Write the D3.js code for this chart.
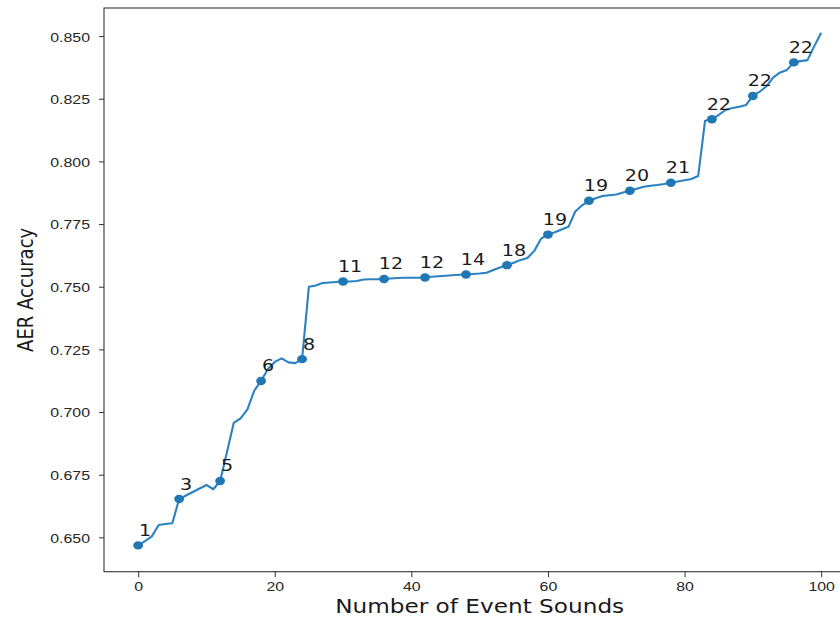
<!DOCTYPE html>
<html>
<head>
<meta charset="utf-8">
<script src="https://cdn.jsdelivr.net/npm/d3@7"></script>
<style>
  body { margin: 0; background: #fff; }
  svg { display: block; font-family: "DejaVu Sans", sans-serif; }
</style>
</head>
<body>
<script>
// accuracy after each added event sound (index = number of event sounds)
let accuracy = [
  0.6468, 0.6485, 0.6504, 0.6549, 0.6553, 0.6556, 0.6653, 0.6667, 0.6681, 0.6695,
  0.6709, 0.6692, 0.6725, 0.6840, 0.6957, 0.6975, 0.7011, 0.7085, 0.7124, 0.7172,
  0.7200, 0.7214, 0.7198, 0.7195, 0.7211, 0.7500, 0.7505, 0.7515, 0.7517, 0.7519,
  0.7521, 0.7521, 0.7523, 0.7529, 0.7530, 0.7530, 0.7531, 0.7533, 0.7535, 0.7536,
  0.7536, 0.7536, 0.7537, 0.7540, 0.7542, 0.7544, 0.7546, 0.7548, 0.7549, 0.7551,
  0.7553, 0.7556, 0.7567, 0.7577, 0.7586, 0.7596, 0.7607, 0.7615, 0.7643, 0.7692,
  0.7708, 0.7717, 0.7728, 0.7739, 0.7800, 0.7825, 0.7843, 0.7853, 0.7862, 0.7865,
  0.7868, 0.7876, 0.7883, 0.7891, 0.7899, 0.7903, 0.7906, 0.7910, 0.7915, 0.7920,
  0.7925, 0.7930, 0.7942, 0.8162, 0.8168, 0.8186, 0.8205, 0.8213, 0.8218, 0.8225,
  0.8261, 0.8278, 0.8300, 0.8335, 0.8355, 0.8365, 0.8395, 0.8400, 0.8404, 0.8460,
  0.8513
]
let marker_idx = [0, 6, 12, 18, 24, 30, 36, 42, 48, 54, 60, 66, 72, 78, 84, 90, 96]
let marker_labels = ['1', '3', '5', '6', '8', '11', '12', '12', '14', '18', '19', '19', '20', '21', '22', '22', '22']
let x_ticks = [0, 20, 40, 60, 80, 100]
let y_ticks = [0.650, 0.675, 0.700, 0.725, 0.750, 0.775, 0.800, 0.825, 0.850]

let width = 840, height = 617
let margin = {top: 8, left: 104, bottom: 571.7, right: 855.3}
let stretch = 1.16
let blue = '#1f77b4'

let x = d3.scaleLinear().domain([-5, 105]).range([margin.left, margin.right])
let y = d3.scaleLinear().domain([0.6363, 0.8612]).range([margin.bottom, margin.top])

const svg = d3.select('body').append('svg')
  .attr('width', width)
  .attr('height', height)

let xAxis = g => g
  .attr('transform', `translate(0,${margin.bottom})`)
  .call(d3.axisBottom(x).tickValues(x_ticks).tickSize(5.5).tickFormat(d3.format('d')))
  .call(g => g.select('.domain').remove())
  .call(g => g.selectAll('.tick line').attr('stroke', '#333'))
  .call(g => g.selectAll('.tick text')
    .attr('y', 19.3).attr('dy', 0)
    .attr('transform', `scale(${stretch},1)`)
    .attr('fill', '#262626')
    .style('font-size', '13.7px'))

let yAxis = g => g
  .attr('transform', `translate(${margin.left},0)`)
  .call(d3.axisLeft(y).tickValues(y_ticks).tickSize(5).tickFormat(d3.format('.3f')))
  .call(g => g.select('.domain').remove())
  .call(g => g.selectAll('.tick line').attr('stroke', '#333'))
  .call(g => g.selectAll('.tick text')
    .attr('x', -14 / stretch).attr('dy', '0.36em')
    .attr('transform', `scale(${stretch},1)`)
    .attr('fill', '#262626')
    .style('font-size', '13.7px'))

svg.append('g').call(xAxis)
svg.append('g').call(yAxis)

// axes frame (right side falls outside the picture)
svg.append('rect')
  .attr('x', margin.left)
  .attr('y', margin.top)
  .attr('width', margin.right - margin.left)
  .attr('height', margin.bottom - margin.top)
  .attr('fill', 'none')
  .attr('stroke', '#333')
  .attr('stroke-width', 1.1)

let line = d3.line()
  .x((d, i) => x(i))
  .y(d => y(d))

svg.append('path')
  .datum(accuracy)
  .attr('fill', 'none')
  .attr('stroke', '#2a82c2')
  .attr('stroke-width', 2.1)
  .attr('stroke-linejoin', 'round')
  .attr('d', line)

svg.append('g')
  .selectAll('ellipse')
  .data(marker_idx)
  .join('ellipse')
    .attr('cx', i => x(i))
    .attr('cy', i => y(accuracy[i]))
    .attr('rx', 4.9)
    .attr('ry', 4.2)
    .attr('fill', blue)

svg.append('g')
  .selectAll('text')
  .data(marker_idx)
  .join('text')
    .attr('transform', i => `translate(${x(i) + 7},${y(accuracy[i]) - 9.5}) scale(${stretch},1)`)
    .attr('text-anchor', 'middle')
    .attr('fill', '#1a1a1a')
    .style('font-size', '16.5px')
    .text((i, k) => marker_labels[k])

svg.append('text')
  .attr('transform', `translate(${(margin.left + margin.right) / 2},613) scale(${stretch},1)`)
  .attr('text-anchor', 'middle')
  .attr('fill', '#1a1a1a')
  .style('font-size', '20px')
  .text('Number of Event Sounds')

svg.append('text')
  .attr('transform', `translate(33,${(margin.top + margin.bottom) / 2}) scale(1.2,1) rotate(-90)`)
  .attr('text-anchor', 'middle')
  .attr('fill', '#1a1a1a')
  .style('font-size', '18px')
  .text('AER Accuracy')
</script>
</body>
</html>
